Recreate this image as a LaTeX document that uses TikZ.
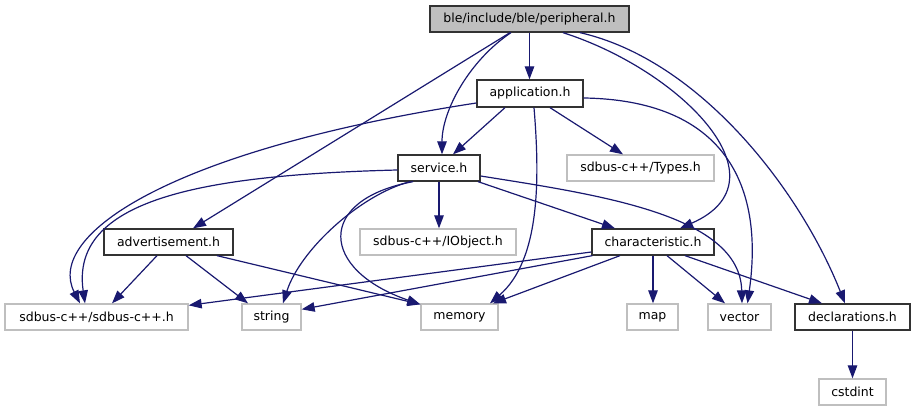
\documentclass[tikz,border=0pt]{standalone}
\usepackage{fontspec}
\setmainfont{DejaVu Sans}
\usetikzlibrary{arrows.meta}
\definecolor{edgecol}{HTML}{191970}
\definecolor{hdrborder}{HTML}{333333}
\definecolor{sysborder}{HTML}{BFBFBF}
\definecolor{curfill}{HTML}{BFBFBF}
\tikzset{
  box/.style={rectangle, inner sep=0pt, minimum height=26pt, line width=1.3pt, font=\fontsize{12.5pt}{14pt}\selectfont},
  hdr/.style={box, draw=hdrborder, fill=white},
  cur/.style={box, draw=hdrborder, fill=curfill},
  sys/.style={box, draw=sysborder, fill=white},
  edge/.style={draw=edgecol, line width=1.2pt, -{Triangle[length=13pt,width=9.5pt]}}
}
\begin{document}
\begin{tikzpicture}[x=1pt,y=-1pt]
\useasboundingbox (0,0) rectangle (915,411);
% nodes
\node[cur, minimum width=199pt] (per) at (529.5,19) {ble/include/ble/peripheral.h};
\node[hdr, minimum width=106pt, minimum height=27pt] (app) at (530,93.5) {application.h};
\node[hdr, minimum width=82pt] (svc) at (439,168) {service.h};
\node[sys, minimum width=147pt] (types) at (640.5,168) {sdbus-c++/Types.h};
\node[hdr, minimum width=129pt] (adv) at (168.5,242) {advertisement.h};
\node[sys, minimum width=156pt] (iobj) at (438,242) {sdbus-c++/IObject.h};
\node[hdr, minimum width=122pt] (chr) at (653,242) {characteristic.h};
\node[sys, minimum width=183pt] (sdb) at (96.5,317) {sdbus-c++/sdbus-c++.h};
\node[sys, minimum width=59pt] (str) at (271.5,317) {string};
\node[sys, minimum width=77pt] (mem) at (459.5,317) {memory};
\node[sys, minimum width=51pt] (map) at (652.5,317) {map};
\node[sys, minimum width=63pt] (vec) at (739.5,317) {vector};
\node[hdr, minimum width=115pt] (dec) at (852.5,317) {declarations.h};
\node[sys, minimum width=67pt] (cst) at (852.5,392) {cstdint};
% edges from peripheral.h
\draw[edge] (per.south) -- (per.south |- app.north);
\draw[edge] ([xshift=-18.5pt]per.south) .. controls (470,60) and (442,110) .. ([xshift=3pt]svc.north);
\draw[edge] ([xshift=-19.5pt]per.south) -- ([xshift=24.5pt]adv.north);
\draw[edge] ([xshift=33.5pt]per.south) .. controls (680,70) and (790,180) .. ([xshift=27pt]chr.north);
\draw[edge] ([xshift=50.5pt]per.south) .. controls (700,60) and (800,190) .. ([xshift=-7.5pt]dec.north);
% edges from application.h
\draw[edge] ([xshift=-25pt]app.south) -- ([xshift=14pt]svc.north);
\draw[edge] ([xshift=20pt]app.south) -- ([xshift=-17.5pt]types.north);
\draw[edge] ([yshift=-9.5pt]app.west) .. controls (170,150) and (45,235) .. ([xshift=-16.5pt]sdb.north);
\draw[edge] ([xshift=4pt]app.south) .. controls (540,180) and (540,260) .. ([xshift=30.5pt]mem.north);
\draw[edge] ([yshift=-4.5pt]app.east) .. controls (720,100) and (765,180) .. ([xshift=8pt]vec.north);
% edges from service.h
\draw[edge] ([yshift=-2pt]svc.west) .. controls (200,175) and (70,200) .. ([xshift=-11.5pt]sdb.north);
\draw[edge] ([xshift=-29pt]svc.south) .. controls (360,195) and (300,250) .. ([xshift=11.5pt]str.north);
\draw[edge] ([xshift=-26pt]svc.south) .. controls (315,200) and (320,270) .. ([yshift=-1pt]mem.north west);
\draw[edge] (svc.south) -- (svc.south |- iobj.north);
\draw[edge] ([xshift=39pt]svc.south) -- ([xshift=-38pt]chr.north);
\draw[edge] ([yshift=-8pt]svc.east) .. controls (600,195) and (740,215) .. ([xshift=2.5pt]vec.north);
% edges from advertisement.h
\draw[edge] ([xshift=-11.5pt]adv.south) -- ([xshift=15.5pt]sdb.north);
\draw[edge] ([xshift=17.5pt]adv.south) -- ([xshift=-23.5pt]str.north);
\draw[edge] ([xshift=48.5pt]adv.south) -- ([yshift=-1pt]mem.north west);
% edges from characteristic.h
\draw[edge] ([yshift=-10pt]chr.west) -- ([yshift=-2pt]sdb.north east);
\draw[edge] ([xshift=1pt]chr.south west) -- ([yshift=-6pt]str.north east);
\draw[edge] ([xshift=-33pt]chr.south) -- ([xshift=33.5pt]mem.north);
\draw[edge] (chr.south) -- (chr.south |- map.north);
\draw[edge] ([xshift=14pt]chr.south) -- ([xshift=-14.5pt]vec.north);
\draw[edge] ([xshift=32pt]chr.south) -- ([xshift=-30.5pt]dec.north);
% edges from declarations.h
\draw[edge] (dec.south) -- (cst.north);
\end{tikzpicture}
\end{document}
